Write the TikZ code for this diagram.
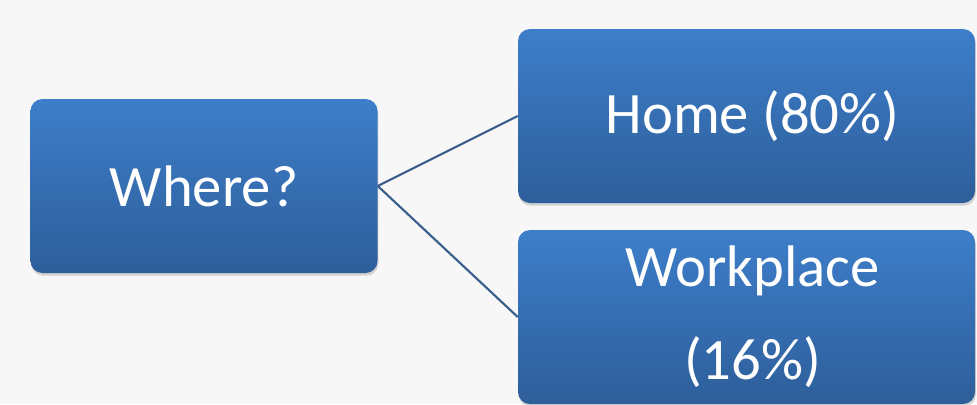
\documentclass[tikz,border=0pt]{standalone}
\usepackage{fontspec}
\setmainfont{Carlito}
\usetikzlibrary{shadows}
\definecolor{bg}{RGB}{247,247,247}
\definecolor{boxtop}{RGB}{61,126,202}
\definecolor{boxbot}{RGB}{46,94,154}
\definecolor{linkc}{RGB}{58,94,140}
\newcommand{\myboxpush}{\hspace*{9pt}}
\tikzset{
  bluebox/.style={rectangle, rounded corners=9pt, top color=boxtop, bottom color=boxbot,
    draw=none, text=white, align=center, inner sep=0pt,
    font=\fontsize{44}{70}\selectfont,
    drop shadow={shadow xshift=0.6pt, shadow yshift=-2pt, opacity=0.25, fill=black!60}},
  link/.style={draw=linkc, line width=1.6pt}
}
\begin{document}
\begin{tikzpicture}[x=0.75pt,y=-0.75pt]
\fill[bg] (0,0) rectangle (977,404);
\useasboundingbox (0,0) rectangle (977,404);
\node[bluebox, minimum width=347*0.75pt, minimum height=174*0.75pt] (where) at (204,186) {Where?};
\node[bluebox, minimum width=457*0.75pt, minimum height=174*0.75pt] (home) at (746.5,116) {\myboxpush Home (80\%)};
\node[bluebox, minimum width=457*0.75pt, minimum height=174*0.75pt] (work) at (746.5,317) {\myboxpush Workplace\\\myboxpush (16\%)};
\draw[link] (where.east) -- (home.west);
\draw[link] (where.east) -- (work.west);
\end{tikzpicture}
\end{document}
